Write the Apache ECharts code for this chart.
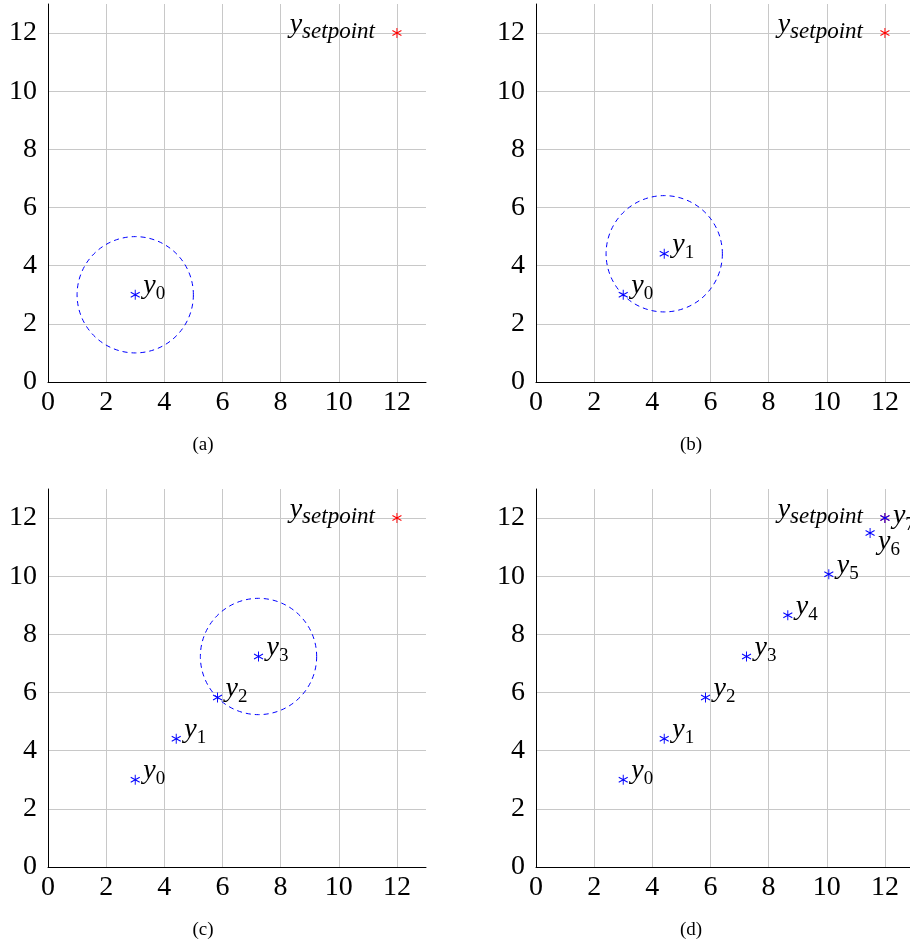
<!DOCTYPE html>
<html><head><meta charset="utf-8">
<script src="https://cdn.jsdelivr.net/npm/echarts@6/dist/echarts.min.js"></script>
<style>html,body{margin:0;padding:0;background:#fff}#c{width:910px;height:944px}</style>
</head><body><div id="c"></div>
<script>
// ---- data ----
const axisMin = 0, axisMax = 13, tickStep = 2;
const tickValues = [0, 2, 4, 6, 8, 10, 12];
const setpointX = [12];
const setpointY = [12];
const setpointName = 'setpoint';
const iterX = [3, 4.41, 5.83, 7.24, 8.66, 10.07, 11.49, 12];
const iterY = [3, 4.41, 5.83, 7.24, 8.66, 10.07, 11.49, 12];
const circleRadius = 2;
const panelPointCounts = [1, 2, 4, 8];
const panelCircleIndex = [0, 1, 3, -1];
const captions = ['(a)', '(b)', '(c)', '(d)'];
const labelBelow = [6];   // labels placed below-right
const labelMiddle = [7];  // labels placed right, centred

// ---- layout / style ----
const SERIF = "'Liberation Serif', 'DejaVu Serif', serif";
const grids = [
  {left: 48, top: 4}, {left: 536, top: 4},
  {left: 48, top: 489}, {left: 536, top: 489}
];
const SIZE = 378;
const GRID_COLOR = '#c8c8c8';
const ASTERISK = 'path://M0,-1L0,1M-0.866,-0.5L0.866,0.5M-0.866,0.5L0.866,-0.5';
const rich = {
  i: {fontFamily: SERIF, fontStyle: 'italic', fontSize: 28, lineHeight: 36, color: '#000'},
  s: {fontFamily: SERIF, fontSize: 19, lineHeight: 19, verticalAlign: 'bottom', color: '#000'},
  ss: {fontFamily: SERIF, fontStyle: 'italic', fontSize: 23, lineHeight: 26, verticalAlign: 'bottom', color: '#000'}
};
// grid lines at the labelled ticks only; the extra line at the axis max stays invisible
const splitColors = tickValues.map(() => GRID_COLOR).concat(['rgba(0,0,0,0)']);

function axisCommon(i, isX) {
  return {
    gridIndex: i, type: 'value', min: axisMin, max: axisMax, interval: tickStep,
    axisLine: {show: true, onZero: false, lineStyle: {color: '#000', width: 1}},
    axisTick: {show: false},
    axisLabel: {show: true, margin: isX ? 7 : 11, fontFamily: SERIF, fontSize: 28, color: '#000',
                formatter: v => (tickValues.includes(v) ? String(v) : '')},
    splitLine: {show: true, lineStyle: {color: splitColors, width: 1}}
  };
}

const option = {
  animation: false,
  backgroundColor: '#fff',
  grid: grids.map(g => ({left: g.left, top: g.top, width: SIZE, height: SIZE,
                         outerBoundsMode: 'none'})),
  xAxis: grids.map((g, i) => axisCommon(i, true)),
  yAxis: grids.map((g, i) => axisCommon(i, false)),
  graphic: captions.map((t, i) => ({
    type: 'text', x: grids[i].left + 155, y: grids[i].top + SIZE + 63,
    style: {text: t, fontFamily: SERIF, fontSize: 19, fill: '#000', align: 'center', verticalAlign: 'middle'}
  })),
  series: []
};

grids.forEach((g, i) => {
  option.series.push({
    type: 'scatter', xAxisIndex: i, yAxisIndex: i, silent: true,
    symbol: ASTERISK, symbolSize: [9, 10],
    itemStyle: {color: '#ff0000', borderColor: '#ff0000', borderWidth: 1, opacity: 1},
    data: setpointX.map((x, k) => [x, setpointY[k]]),
    label: {show: true, position: 'left', distance: 17, offset: [0, -8],
            formatter: '{i|y}{ss|' + setpointName + '}', rich: rich},
    z: 3
  });
  const n = panelPointCounts[i];
  option.series.push({
    type: 'scatter', xAxisIndex: i, yAxisIndex: i, silent: true,
    symbol: ASTERISK, symbolSize: [9, 10],
    itemStyle: {color: '#0000ff', borderColor: '#0000ff', borderWidth: 1, opacity: 1},
    data: iterX.slice(0, n).map((x, k) => {
      let off = [0, -9];
      if (labelBelow.includes(k)) off = [0, 9];
      if (labelMiddle.includes(k)) off = [0, -2];
      return {value: [x, iterY[k]],
              label: {show: true, position: 'right', distance: 3, offset: off,
                      formatter: '{i|y}{s|' + k + '}', rich: rich}};
    }),
    z: 4
  });
  const ci = panelCircleIndex[i];
  if (ci >= 0) {
    option.series.push({
      type: 'custom', xAxisIndex: i, yAxisIndex: i, silent: true, clip: false,
      encode: {x: 0, y: 1},
      data: [[iterX[ci], iterY[ci], circleRadius]],
      renderItem: (params, api) => {
        const c = api.coord([api.value(0), api.value(1)]);
        const s = api.size([api.value(2), api.value(2)]);
        return {type: 'circle', shape: {cx: c[0], cy: c[1], r: s[0]},
                style: {fill: 'none', stroke: '#0000ff', lineWidth: 1, lineDash: [5, 4]}};
      },
      z: 2
    });
  }
});

const chart = echarts.init(document.getElementById('c'), null, {renderer: 'canvas'});
chart.setOption(option);
</script>
</body></html>
